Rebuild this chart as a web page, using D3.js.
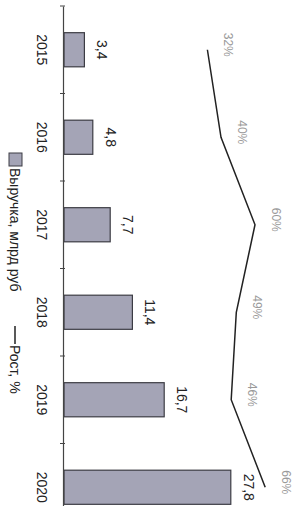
<!DOCTYPE html>
<html>
<head>
<meta charset="utf-8">
<script src="https://cdn.jsdelivr.net/npm/d3@7"></script>
<style>
  html, body { margin: 0; padding: 0; background: #fff; }
  svg { display: block; }
</style>
</head>
<body>
<div id="chart"></div>
<script>
// --- DATA ---
const years = ["2015", "2016", "2017", "2018", "2019", "2020"];
const revenue = [3.4, 4.8, 7.7, 11.4, 16.7, 27.8];
const growth = [32, 40, 60, 49, 46, 66];
const legendLabels = ["Выручка, млрд руб", "Рост, %"];

const fmt = v => String(v).replace(".", ",");

// page is 297x506, chart is drawn landscape then turned 90deg clockwise
const pageW = 297, pageH = 506;
const W = pageH, H = pageW;

const svg = d3.select("#chart")
    .append("svg")
    .attr("width", pageW)
    .attr("height", pageH);

const g = svg.append("g")
    .attr("transform", `translate(${pageW},0) rotate(90)`)
    .attr("font-family", "'Liberation Sans', Arial, sans-serif");

const baseY = 233;

const x = d3.scaleBand()
    .domain(years)
    .range([6, 531])
    .paddingInner(0.61)
    .paddingOuter(0.305);

const y = d3.scaleLinear()
    .domain([0, 30])
    .range([baseY, 53]);

const y2 = d3.scaleLinear()
    .domain([0, 80])
    .range([144, 8]);

// bars
g.append("g")
    .selectAll("rect")
    .data(revenue)
    .join("rect")
    .attr("x", (d, i) => x(years[i]))
    .attr("y", d => y(d))
    .attr("width", x.bandwidth())
    .attr("height", d => baseY - y(d))
    .attr("fill", "#a4a4b6")
    .attr("stroke", "#3c3c44")
    .attr("stroke-width", 1.2);

// value labels
g.append("g")
    .selectAll("text")
    .data(revenue)
    .join("text")
    .attr("x", (d, i) => x(years[i]) + x.bandwidth() / 2)
    .attr("y", d => y(d) - 13)
    .attr("text-anchor", "middle")
    .attr("font-size", 14)
    .attr("fill", "#222")
    .text(d => fmt(d));

// category axis
const axis = g.append("g")
    .attr("transform", `translate(0,${baseY})`)
    .call(d3.axisBottom(x).tickSize(0).tickPadding(17));
axis.select(".domain").attr("stroke", "#444").attr("stroke-width", 1.2);
axis.selectAll("text").attr("font-size", 14).attr("fill", "#222");

// ticks between categories
axis.append("g")
    .selectAll("line")
    .data(d3.range(years.length + 1))
    .join("line")
    .attr("x1", i => x.range()[0] + i * x.step())
    .attr("x2", i => x.range()[0] + i * x.step())
    .attr("y1", -1)
    .attr("y2", 4)
    .attr("stroke", "#444");

// growth line
const line = d3.line()
    .x((d, i) => x(years[i]) + x.bandwidth() / 2)
    .y(d => y2(d));

g.append("path")
    .datum(growth)
    .attr("d", line)
    .attr("fill", "none")
    .attr("stroke", "#222")
    .attr("stroke-width", 1.5);

g.append("g")
    .selectAll("text")
    .data(growth)
    .join("text")
    .attr("x", (d, i) => x(years[i]) + x.bandwidth() / 2 - 5)
    .attr("y", d => y2(d) - 17)
    .attr("text-anchor", "middle")
    .attr("font-size", 12)
    .attr("fill", "#9a9a9a")
    .text(d => d + "%");

// legend
const legend = g.append("g").attr("transform", "translate(0,282)");
legend.append("rect")
    .attr("x", 153).attr("y", -7)
    .attr("width", 13).attr("height", 13)
    .attr("fill", "#a4a4b6")
    .attr("stroke", "#3c3c44");
legend.append("text")
    .attr("x", 168).attr("y", 5)
    .attr("font-size", 14).attr("fill", "#222")
    .text(legendLabels[0]);
legend.append("line")
    .attr("x1", 326).attr("x2", 344)
    .attr("y1", 0).attr("y2", 0)
    .attr("stroke", "#222").attr("stroke-width", 1.5);
legend.append("text")
    .attr("x", 345).attr("y", 5)
    .attr("font-size", 14).attr("fill", "#222")
    .text(legendLabels[1]);
</script>
</body>
</html>
